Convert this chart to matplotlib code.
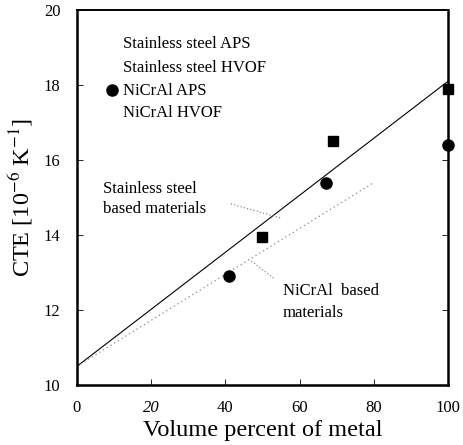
import matplotlib
matplotlib.use("Agg")
import matplotlib.pyplot as plt

plt.rcParams['font.family'] = ['Liberation Serif', 'DejaVu Serif']
plt.rcParams['mathtext.fontset'] = 'stix'

# data
steel_x = [50, 69, 100]
steel_y = [13.95, 16.5, 17.9]
nicral_x = [41, 67, 100]
nicral_y = [12.9, 15.4, 16.4]
steel_fit_x = [0, 100]
steel_fit_y = [10.5, 18.1]
nicral_fit_x = [0, 80]
nicral_fit_y = [10.5, 15.4]
legend_labels = ["Stainless steel APS", "Stainless steel HVOF", "NiCrAl APS", "NiCrAl HVOF"]
xticks = [0, 20, 40, 60, 80, 100]
yticks = [10, 12, 14, 16, 18, 20]

fig = plt.figure(figsize=(4.63, 4.45), dpi=100)
ax = fig.add_axes([0.1663, 0.1348, 0.8013, 0.8427])

ax.plot(steel_fit_x, steel_fit_y, color='black', lw=0.8, zorder=2)
ax.plot(nicral_fit_x, nicral_fit_y, color='#888888', lw=0.9, ls=(0, (1, 2.5)), zorder=2)

ax.plot(steel_x, steel_y, ls='none', marker='s', ms=6.5, color='black', zorder=4, clip_on=False)
ax.plot(nicral_x, nicral_y, ls='none', marker='o', ms=8, color='black', zorder=4, clip_on=False)

ax.set_xlim(0, 100)
ax.set_ylim(10, 20)
ax.set_xticks(xticks)
ax.set_yticks(yticks)
ax.set_xticklabels([str(v) for v in xticks])
ax.set_yticklabels([str(v) for v in yticks])
for lab in ax.get_xticklabels():
    if lab.get_text() == '20':
        lab.set_fontstyle('italic')
ax.tick_params(direction='in', length=4, width=0.6, labelsize=12, pad=11)
ax.tick_params(axis='y', right=True, pad=12)

for s in ax.spines.values():
    s.set_linewidth(1.8)
ax.spines['top'].set_linewidth(1.4)

ax.set_xlabel("Volume percent of metal", fontsize=17.5, labelpad=3)
ax.set_ylabel("CTE [10$^{-6}$ K$^{-1}$]", fontsize=17.5, labelpad=6)

# legend (hand placed)
leg_y = [19.1, 18.45, 17.85, 17.25]
for lab, yy in zip(legend_labels, leg_y):
    ax.text(12.5, yy, lab, fontsize=12, va='center', ha='left')
ax.plot([9.5], [17.88], marker='o', ms=8, color='black', ls='none')

# annotations
ax.text(7, 14.95, "Stainless steel\nbased materials", fontsize=12, va='center', ha='left', linespacing=1.35)
ax.plot([41.5, 55], [14.83, 14.45], color='#777777', lw=0.8, ls=(0, (1, 2)))
ax.text(55.5, 12.22, "NiCrAl  based\nmaterials", fontsize=12, va='center', ha='left', linespacing=1.5)
ax.plot([47, 53], [13.3, 12.85], color='#777777', lw=0.8, ls=(0, (1, 2)))

fig.savefig("out.png", dpi=100)
